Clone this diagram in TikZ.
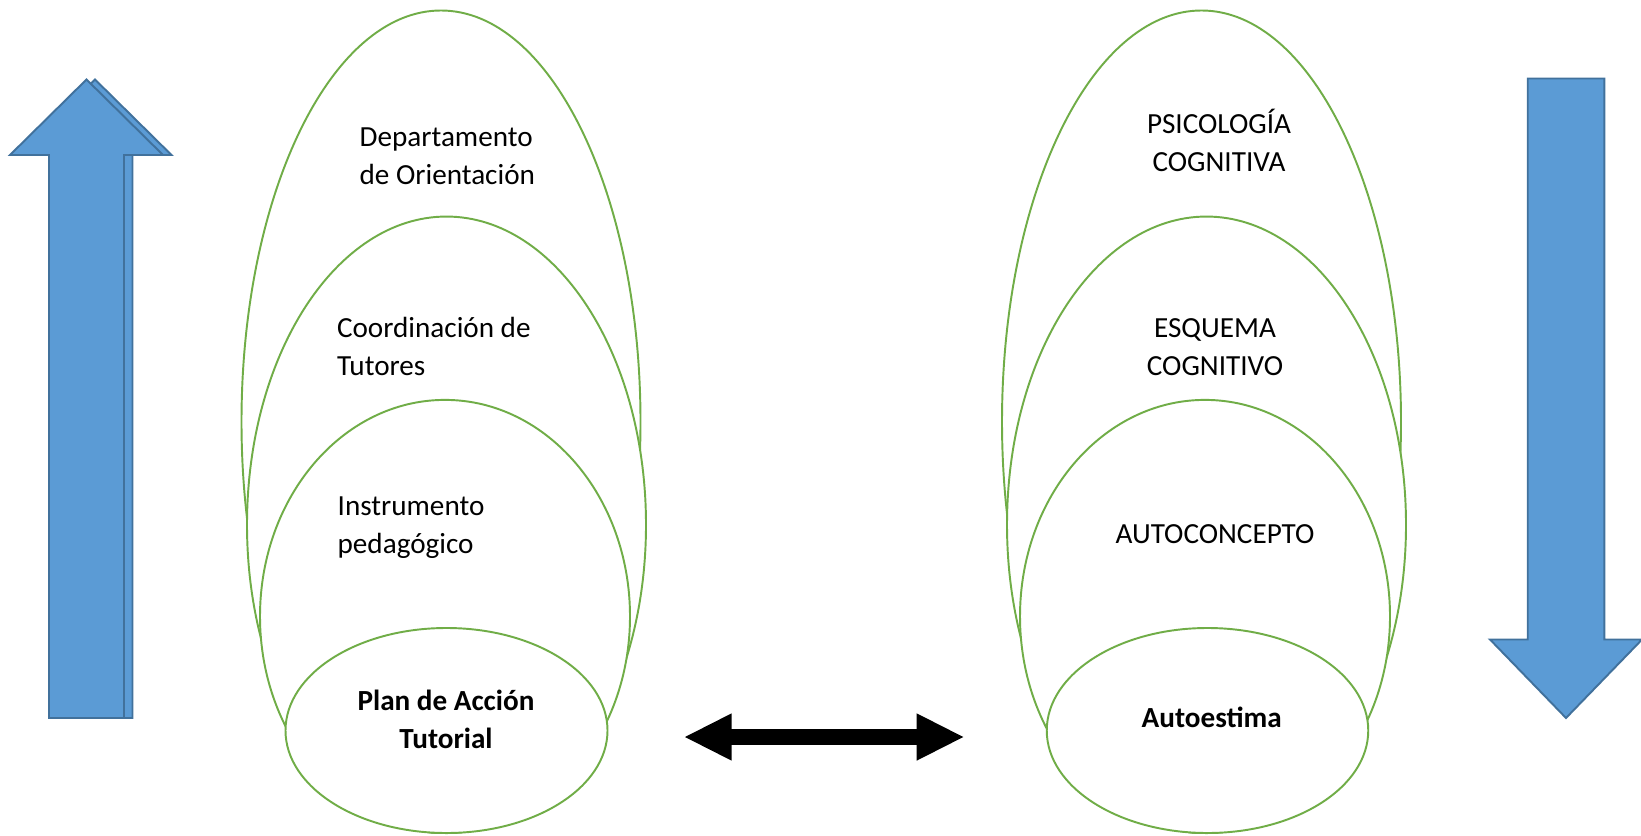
\documentclass[tikz,border=0pt]{standalone}
\usepackage{fontspec}
\setmainfont{Carlito}
\usepackage{tikz}
\usetikzlibrary{calc}
\usetikzlibrary{shapes.geometric}
\definecolor{ringgreen}{HTML}{70AD47}
\definecolor{arrowblue}{HTML}{5B9BD5}
\definecolor{arrowedge}{HTML}{41719C}
\tikzstyle{ring} = [ellipse, draw=ringgreen, fill=white, line width=1.1pt, inner sep=0pt]
\tikzstyle{lbl} = [font=\fontsize{16.6}{21.6}\selectfont, inner sep=0pt]
\tikzstyle{bigarrow} = [fill=arrowblue, draw=arrowedge, line width=1.1pt, line join=miter]

\begin{document}
\begin{tikzpicture}
\useasboundingbox (0,0) rectangle (32.82,16.70);
% left stack
\node [ring, minimum width=7.98cm, minimum height=16.45cm] (DO) at (8.82, 8.265) {};
\node [ring, minimum width=7.98cm, minimum height=12.33cm] (CT) at (8.93, 6.204) {};
\node [ring, minimum width=7.40cm, minimum height=8.66cm] (IP) at (8.90, 4.372) {};
\node [ring, minimum width=6.44cm, minimum height=4.10cm] (PAT) at (8.93, 2.09) {};
\node [lbl, align=left, anchor=base west] (DOt) at (7.186, 13.006) {Departamento\\de Orientación};
\node [lbl, align=left, anchor=base west] (CTt) at (6.734, 9.194) {Coordinación de\\Tutores};
\node [lbl, align=left, anchor=base west] (IPt) at (6.746, 5.64) {Instrumento\\pedagógico};
\node [lbl, align=center, anchor=base, font=\fontsize{16.6}{21.6}\selectfont\bfseries] (PATt) at (8.92, 1.726) {Plan de Acción\\Tutorial};
% right stack
\node [ring, minimum width=7.98cm, minimum height=16.45cm] (PC) at (24.03, 8.265) {};
\node [ring, minimum width=7.98cm, minimum height=12.33cm] (EC) at (24.13, 6.204) {};
\node [ring, minimum width=7.40cm, minimum height=8.66cm] (AC) at (24.10, 4.372) {};
\node [ring, minimum width=6.43cm, minimum height=4.10cm] (AE) at (24.15, 2.09) {};
\node [lbl, align=center, anchor=base] (PCt) at (24.38, 13.27) {PSICOLOGÍA\\COGNITIVA};
\node [lbl, align=center, anchor=base] (ECt) at (24.30, 9.194) {ESQUEMA\\COGNITIVO};
\node [lbl, align=center, anchor=base] (ACt) at (24.30, 5.834) {AUTOCONCEPTO};
\node [lbl, anchor=base, font=\fontsize{16.6}{21.6}\selectfont\bfseries] (AEt) at (24.234, 2.16) {Autoestima};
% blue arrows
\foreach \x in {1.90, 1.73}
  \filldraw [bigarrow] (\x, 2.34) ++(-0.75,0) -- ++(0,11.26) -- ++(-0.78,0) -- ++(1.53,1.51) -- ++(1.53,-1.51) -- ++(-0.78,0) -- ++(0,-11.26) -- cycle;
\coordinate (dn) at (31.32, 15.13);
\filldraw [bigarrow] (dn) ++(-0.766,0) -- ++(0,-11.22) -- ++(-0.754,0) -- ++(1.52,-1.57) -- ++(1.52,1.57) -- ++(-0.754,0) -- ++(0,11.22) -- cycle;
% double arrow
\coordinate (dl) at (13.70, 1.96);
\coordinate (dr) at (19.266, 1.96);
\fill (dl) -- ++(0.934,0.474) -- ++(0,-0.317) -- ($(dr)+(-0.934,0.157)$) -- ++(0,0.317) -- (dr) -- ++(-0.934,-0.474) -- ++(0,0.317) -- ($(dl)+(0.934,-0.157)$) -- ++(0,-0.317) -- cycle;
\end{tikzpicture}
\end{document}
